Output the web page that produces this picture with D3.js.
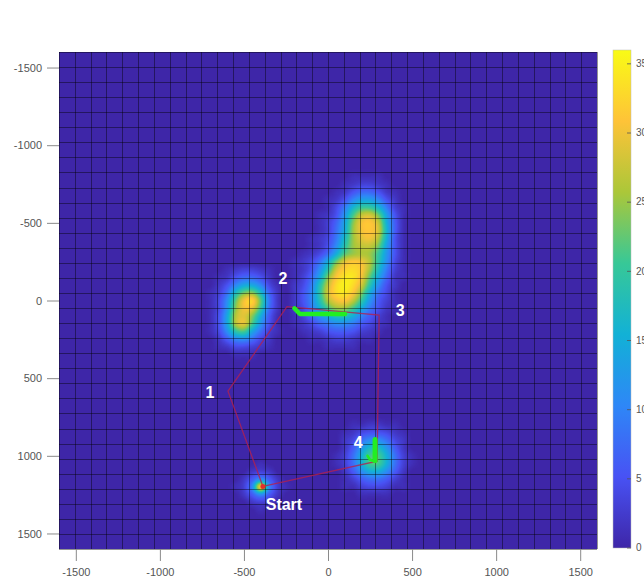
<!DOCTYPE html>
<html>
<head>
<meta charset="utf-8">
<script src="https://cdn.jsdelivr.net/npm/d3@7"></script>
<style>
  body { margin: 0; background: #fff; }
  text { font-family: "Liberation Sans", Arial, sans-serif; }
</style>
</head>
<body>
<div id="chart"></div>
<script>
// Tick values
var xTicks = [-1500, -1000, -500, 0, 500, 1000, 1500];
var yTicks = [-1500, -1000, -500, 0, 500, 1000, 1500];
var cbTicks = [0, 5, 10, 15, 20, 25, 30, 35];

// Heat values, sampled every 50 units; x0/y0 = data coords of first node
var heatStep = 50;
var blobLeft = {x0: -700, y0: -200, rows: [
  [0, 0, 1, 2, 3, 3, 2, 1, 0],
  [0, 1, 2, 5, 7, 7, 5, 2, 0],
  [0, 2, 5, 10, 14, 14, 10, 4, 1],
  [1, 3, 8, 17, 23, 24, 17, 7, 2],
  [1, 4, 11, 22, 30, 32, 22, 9, 2],
  [1, 4, 12, 24, 30, 29, 20, 8, 2],
  [1, 5, 14, 26, 29, 24, 15, 6, 1],
  [1, 5, 14, 26, 29, 21, 12, 5, 1],
  [1, 4, 11, 19, 21, 14, 8, 3, 1],
  [0, 2, 6, 10, 11, 8, 4, 2, 0],
  [0, 1, 2, 4, 4, 3, 2, 1, 0],
  [0, 0, 0, 1, 1, 1, 0, 0, 0]
]};
var blobCenter = {x0: -250, y0: -800, rows: [
  [0, 0, 0, 0, 0, 0, 0, 0, 1, 1, 1, 1, 0, 0, 0, 0],
  [0, 0, 0, 0, 0, 0, 0, 1, 2, 3, 3, 2, 1, 0, 0, 0],
  [0, 0, 0, 0, 0, 0, 1, 2, 5, 7, 7, 5, 2, 1, 0, 0],
  [0, 0, 0, 0, 0, 1, 2, 5, 10, 13, 13, 10, 5, 2, 0, 0],
  [0, 0, 0, 0, 0, 1, 4, 9, 16, 20, 20, 16, 9, 3, 1, 0],
  [0, 0, 0, 0, 1, 2, 5, 12, 21, 27, 28, 23, 13, 5, 1, 0],
  [0, 0, 0, 0, 1, 3, 7, 14, 24, 30, 31, 27, 15, 6, 1, 0],
  [0, 0, 0, 0, 1, 3, 8, 15, 25, 30, 31, 28, 16, 6, 1, 0],
  [0, 0, 0, 1, 2, 4, 9, 17, 25, 29, 30, 26, 15, 5, 1, 0],
  [0, 0, 0, 1, 2, 5, 11, 19, 25, 27, 27, 23, 13, 5, 1, 0],
  [0, 0, 1, 2, 4, 8, 15, 22, 25, 26, 25, 20, 12, 5, 1, 0],
  [0, 1, 2, 4, 8, 15, 23, 29, 31, 30, 26, 19, 11, 4, 1, 0],
  [0, 1, 2, 5, 11, 19, 28, 32, 33, 31, 25, 17, 9, 3, 1, 0],
  [0, 1, 3, 7, 14, 24, 31, 34, 34, 30, 22, 14, 7, 2, 1, 0],
  [0, 2, 4, 9, 18, 27, 33, 35, 33, 28, 19, 11, 5, 2, 0, 0],
  [0, 2, 5, 10, 19, 28, 33, 34, 31, 24, 15, 8, 4, 1, 0, 0],
  [0, 2, 5, 10, 18, 26, 30, 31, 27, 20, 12, 6, 3, 1, 0, 0],
  [0, 2, 4, 9, 15, 21, 25, 25, 21, 15, 9, 5, 2, 1, 0, 0],
  [0, 1, 3, 7, 11, 15, 18, 18, 15, 10, 6, 3, 1, 0, 0, 0],
  [0, 1, 2, 4, 7, 9, 11, 11, 9, 6, 4, 2, 1, 0, 0, 0],
  [0, 0, 1, 2, 3, 5, 6, 6, 5, 3, 2, 1, 0, 0, 0, 0],
  [0, 0, 0, 1, 1, 2, 3, 3, 2, 1, 1, 0, 0, 0, 0, 0],
  [0, 0, 0, 0, 0, 1, 1, 1, 1, 0, 0, 0, 0, 0, 0, 0],
  [0, 0, 0, 0, 0, 0, 0, 0, 0, 0, 0, 0, 0, 0, 0, 0]
]};
var blobFour = {x0: 50, y0: 800, rows: [
  [0, 0, 1, 1, 2, 2, 1, 1, 0, 0],
  [0, 1, 2, 4, 5, 5, 4, 2, 1, 0],
  [0, 2, 4, 8, 11, 11, 8, 4, 2, 0],
  [0, 2, 6, 12, 17, 17, 12, 6, 2, 0],
  [1, 3, 8, 15, 21, 21, 15, 8, 3, 1],
  [1, 3, 8, 15, 21, 21, 15, 8, 3, 1],
  [0, 2, 6, 11, 15, 15, 11, 6, 2, 0],
  [0, 1, 3, 6, 8, 8, 6, 3, 1, 0],
  [0, 1, 1, 3, 4, 4, 3, 1, 1, 0],
  [0, 0, 0, 1, 1, 1, 1, 0, 0, 0]
]};
var blobStart = {x0: -550, y0: 1050, rows: [
  [0, 0, 0, 1, 0, 0, 0],
  [0, 0, 2, 3, 2, 0, 0],
  [0, 2, 6, 11, 6, 2, 0],
  [1, 3, 11, 30, 11, 3, 1],
  [0, 2, 6, 11, 6, 2, 0],
  [0, 0, 2, 3, 2, 0, 0],
  [0, 0, 0, 1, 0, 0, 0]
]};

// Route stops
var stopNames = ["Start", "1", "2", "3", "4"];
var stopX = [-387, -595, -244, 304, 292];
var stopY = [1197, 584, 40, 94, 1035];

// Green tracks
var trackAX = [-200, -167, 101];
var trackAY = [50, 87, 87];
var trackBX = [280, 280];
var trackBY = [895, 1030];
var trackCX = [235, 250, 272];
var trackCY = [1000, 1025, 1035];

// parula-like colormap
var parulaColors = ["#3e26a8", "#4852f4", "#2e87f7", "#12b1d6", "#37c897", "#abc739", "#fec338", "#f9fb15"];
var cMax = 36;

var W = 644, H = 585;
var pLeft = 59, pTop = 52, pRight = 597, pBottom = 549;

var x = d3.scaleLinear().domain([-1600, 1600]).range([pLeft, pRight]);
var y = d3.scaleLinear().domain([-1600, 1600]).range([pTop, pBottom]);
var color = d3.scaleLinear()
    .domain(parulaColors.map(function(d, i) { return i / (parulaColors.length - 1) * cMax; }))
    .range(parulaColors)
    .clamp(true);

var svg = d3.select("#chart").append("svg")
    .attr("width", W)
    .attr("height", H);

// Build node field
var n = 3200 / heatStep + 1;
var field = new Float32Array(n * n);
[blobLeft, blobCenter, blobFour, blobStart].forEach(function(p) {
  var i0 = (p.x0 + 1600) / heatStep, j0 = (p.y0 + 1600) / heatStep;
  p.rows.forEach(function(row, j) {
    row.forEach(function(v, i) { field[(j0 + j) * n + (i0 + i)] = v; });
  });
});

function node(i, j) {
  i = Math.max(0, Math.min(n - 1, i));
  j = Math.max(0, Math.min(n - 1, j));
  return field[j * n + i];
}
function cubic(p0, p1, p2, p3, t) {
  return p1 + 0.5 * t * (p2 - p0 + t * (2 * p0 - 5 * p1 + 4 * p2 - p3 + t * (3 * (p1 - p2) + p3 - p0)));
}
function sample(gx, gy) {
  var i = Math.floor(gx), j = Math.floor(gy), tx = gx - i, ty = gy - j;
  var r = [];
  for (var k = -1; k <= 2; k++) {
    r.push(cubic(node(i - 1, j + k), node(i, j + k), node(i + 1, j + k), node(i + 2, j + k), tx));
  }
  return Math.max(0, cubic(r[0], r[1], r[2], r[3], ty));
}

// color lookup table
var lut = d3.range(256).map(function(k) { return d3.rgb(color(k / 255 * cMax)); });

var pw = pRight - pLeft, ph = pBottom - pTop;
var canvas = document.createElement("canvas");
canvas.width = pw; canvas.height = ph;
var ctx = canvas.getContext("2d");
var img = ctx.createImageData(pw, ph);
for (var py = 0; py < ph; py++) {
  var gy = (y.invert(pTop + py + 0.5) + 1600) / heatStep;
  for (var px = 0; px < pw; px++) {
    var gx = (x.invert(pLeft + px + 0.5) + 1600) / heatStep;
    var v = sample(gx, gy);
    var c = lut[Math.max(0, Math.min(255, Math.round(v / cMax * 255)))];
    var o = (py * pw + px) * 4;
    img.data[o] = c.r; img.data[o + 1] = c.g; img.data[o + 2] = c.b; img.data[o + 3] = 255;
  }
}
ctx.putImageData(img, 0, 0);

svg.append("image")
    .attr("x", pLeft).attr("y", pTop)
    .attr("width", pw).attr("height", ph)
    .attr("preserveAspectRatio", "none")
    .attr("href", canvas.toDataURL());

// mesh lines
var gridX = d3.range(35).map(function(i) { return -1600 + i * 3200 / 34; });
var gridY = d3.range(34).map(function(i) { return -1600 + i * 3200 / 33; });
var grid = svg.append("g").attr("stroke", "#000").attr("stroke-opacity", 0.42).attr("stroke-width", 1);
grid.selectAll(".gx").data(gridX).enter().append("line")
    .attr("x1", function(d) { return Math.round(x(d)) + 0.5; })
    .attr("x2", function(d) { return Math.round(x(d)) + 0.5; })
    .attr("y1", pTop).attr("y2", pBottom);
grid.selectAll(".gy").data(gridY).enter().append("line")
    .attr("y1", function(d) { return Math.round(y(d)) + 0.5; })
    .attr("y2", function(d) { return Math.round(y(d)) + 0.5; })
    .attr("x1", pLeft).attr("x2", pRight);

// route
var routeIdx = [0, 1, 2, 3, 4, 0];
var line = d3.line()
    .x(function(i) { return x(stopX[i]); })
    .y(function(i) { return y(stopY[i]); });
svg.append("path")
    .datum(routeIdx)
    .attr("d", line)
    .attr("fill", "none")
    .attr("stroke", "#b3204f")
    .attr("stroke-opacity", 0.8)
    .attr("stroke-width", 1.3);

// green tracks
var trackLine = d3.line()
    .x(function(d) { return x(d[0]); })
    .y(function(d) { return y(d[1]); });
[[trackAX, trackAY, 4.5], [trackBX, trackBY, 5], [trackCX, trackCY, 2.5]].forEach(function(t) {
  svg.append("path")
      .datum(t[0].map(function(v, i) { return [v, t[1][i]]; }))
      .attr("d", trackLine)
      .attr("fill", "none")
      .attr("stroke", "#22ee22")
      .attr("stroke-width", t[2])
      .attr("stroke-linecap", "round")
      .attr("stroke-linejoin", "round");
});

// start marker
svg.append("circle")
    .attr("cx", x(stopX[0])).attr("cy", y(stopY[0]))
    .attr("r", 2.5).attr("fill", "#e0302a");

// stop labels (pixel offsets from the stop)
var labelOffsets = [[21, 18], [-18, 1], [-4, -28], [21, -5], [-19, -19]];
svg.selectAll(".stopLabel").data(stopNames).enter().append("text")
    .attr("x", function(d, i) { return x(stopX[i]) + labelOffsets[i][0]; })
    .attr("y", function(d, i) { return y(stopY[i]) + labelOffsets[i][1]; })
    .attr("dy", "0.35em")
    .attr("text-anchor", "middle")
    .attr("fill", "#fff")
    .attr("font-size", 16)
    .attr("font-weight", "bold")
    .text(function(d) { return d; });

// axes
var fmt = function(d) { return String(d); };
var xAxis = svg.append("g")
    .attr("transform", "translate(0," + pBottom + ")")
    .call(d3.axisBottom(x).tickValues(xTicks).tickFormat(fmt).tickSize(12).tickPadding(7));
var yAxis = svg.append("g")
    .attr("transform", "translate(" + pLeft + ",0)")
    .call(d3.axisLeft(y).tickValues(yTicks).tickFormat(fmt).tickSize(12).tickPadding(5));
[xAxis, yAxis].forEach(function(a) {
  a.select(".domain").remove();
  a.selectAll(".tick line").attr("stroke", "#8a8a8a");
  a.selectAll(".tick text").attr("fill", "#555").attr("font-size", 11)
      .style("font-family", "'Liberation Sans', Arial, sans-serif");
});

// colorbar
var cbX = 613, cbW = 18, cbTop = 50, cbBottom = 548;
var cy = d3.scaleLinear().domain([0, cMax]).range([cbBottom, cbTop]);
var grad = svg.append("defs").append("linearGradient")
    .attr("id", "cbGrad")
    .attr("x1", 0).attr("y1", 1).attr("x2", 0).attr("y2", 0);
grad.selectAll("stop").data(parulaColors).enter().append("stop")
    .attr("offset", function(d, i) { return i / (parulaColors.length - 1); })
    .attr("stop-color", function(d) { return d; });
svg.append("rect")
    .attr("x", cbX).attr("y", cbTop)
    .attr("width", cbW).attr("height", cbBottom - cbTop)
    .attr("fill", "url(#cbGrad)")
    .attr("stroke", "#bbb").attr("stroke-width", 0.5);
svg.selectAll(".cbTick").data(cbTicks).enter().append("line")
    .attr("x1", cbX + cbW - 4).attr("x2", cbX + cbW)
    .attr("y1", function(d) { return cy(d); })
    .attr("y2", function(d) { return cy(d); })
    .attr("stroke", "#555").attr("stroke-width", 0.8);
svg.selectAll(".cbLabel").data(cbTicks).enter().append("text")
    .attr("x", cbX + cbW + 5)
    .attr("y", function(d) { return cy(d); })
    .attr("dy", "0.32em")
    .attr("fill", "#555")
    .attr("font-size", 10)
    .text(function(d) { return d; });
</script>
</body>
</html>
